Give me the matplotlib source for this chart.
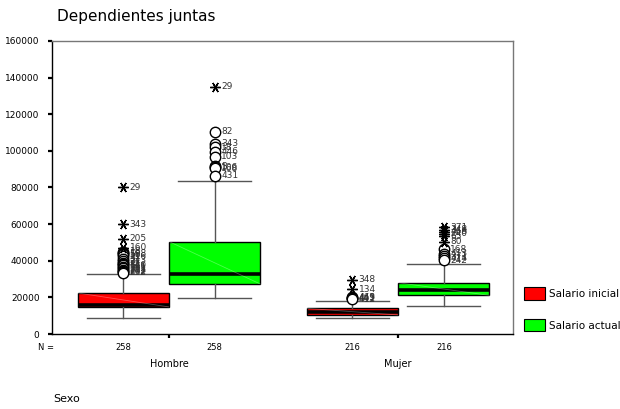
import matplotlib
matplotlib.use("Agg")
import matplotlib.pyplot as plt
from matplotlib.patches import Patch

# ---- data ----
groups = ["Hombre", "Mujer"]
series = ["Salario inicial", "Salario actual"]
counts = [[258, 258], [216, 216]]
colors = ["#ff0000", "#00ff00"]

# five-number summaries [whislo, q1, med, q3, whishi]
hombre_inicial = [8700, 14800, 15900, 22400, 32800]
hombre_actual = [19500, 27300, 32600, 50400, 83700]
mujer_inicial = [8600, 10400, 12200, 14000, 18200]
mujer_actual = [15300, 21100, 24200, 28000, 38200]

# outliers (value, case label)
hi_out = [(45000, "18"), (44000, "198"), (43500, "56"), (42500, "216"), (41000, "32"),
          (40000, "213"), (39000, "27"), (38000, "84"), (37500, "120"), (36500, "191"),
          (36000, "252"), (35000, "211"), (34500, "283"), (34000, "202"), (33500, "232")]
hi_ext = [(80000, "29"), (60000, "343"), (52000, "205"), (47000, "160")]
ha_out = [(110500, "82"), (104000, "343"), (102000, "18"), (99600, "446"), (96800, "103"),
          (91500, "3"), (91000, "106"), (90500, "168"), (86300, "431")]
ha_ext = [(135000, "29")]
mi_out = [(20000, "449"), (19700, "463"), (19400, "441"), (19000, "412")]
mi_ext = [(29500, "348"), (24400, "134")]
ma_out = [(46300, "168"), (43800, "413"), (42500, "371"), (41500, "414"), (40400, "242")]
ma_ext = [(58300, "371"), (56800, "348"), (55800, "468"), (54800, "240"), (53500, "65"),
          (50400, "80")]

yticks = [0, 20000, 40000, 60000, 80000, 100000, 120000, 140000, 160000]

# ---- figure ----
fig = plt.figure(figsize=(6.2, 4.09), dpi=100)
ax = fig.add_axes([52 / 620, 75 / 409, 461 / 620, 293 / 409])

group_pos = [1.0, 2.0]
offset = 0.2
width = 0.397
summaries = [[hombre_inicial, hombre_actual], [mujer_inicial, mujer_actual]]
outs = [[(hi_out, hi_ext), (ha_out, ha_ext)], [(mi_out, mi_ext), (ma_out, ma_ext)]]

for gi, gp in enumerate(group_pos):
    for si in range(2):
        s = summaries[gi][si]
        pos = gp + (-offset if si == 0 else offset)
        stats = [dict(whislo=s[0], q1=s[1], med=s[2], q3=s[3], whishi=s[4], fliers=[])]
        ax.bxp(stats, positions=[pos], widths=width, patch_artist=True,
               showfliers=False, showcaps=True,
               boxprops=dict(facecolor=colors[si], edgecolor="black", linewidth=1.0),
               medianprops=dict(color="black", linewidth=2.6),
               whiskerprops=dict(color="#555555", linewidth=1.0),
               capprops=dict(color="#555555", linewidth=1.0),
               capwidths=width * 0.8)
        # faint diagonal artefact inside the box
        ax.plot([pos - width / 2, pos + width / 2], [s[3], s[1]],
                color="white", alpha=0.3, linewidth=0.6, zorder=3)
        o, e = outs[gi][si]
        for v, lab in o:
            ax.plot([pos], [v], marker="o", markersize=7.5, markerfacecolor="white",
                    markeredgecolor="black", markeredgewidth=1.0, linestyle="none", zorder=4)
            ax.text(pos + 0.028, v, lab, fontsize=6.5, color="#333333",
                    va="center", ha="left", zorder=5)
        for v, lab in e:
            ax.plot([pos], [v], marker=(6, 2, 90), markersize=7.5, color="black",
                    markeredgewidth=1.0, linestyle="none", zorder=4)
            ax.text(pos + 0.028, v, lab, fontsize=6.5, color="#333333",
                    va="center", ha="left", zorder=5)

ax.set_xlim(0.489, 2.502)
ax.set_ylim(0, 160000)
ax.set_yticks(yticks)
ax.set_yticklabels([str(t) for t in yticks], fontsize=6.5)
ax.tick_params(axis="y", length=3, width=1.6, pad=6)
ax.set_xticks(group_pos)
ax.set_xticklabels([])
ax.tick_params(axis="x", length=3, width=1.6, direction="out")

for sp in ["top", "right"]:
    ax.spines[sp].set_color("#777777")
    ax.spines[sp].set_linewidth(1.0)
for sp in ["left", "bottom"]:
    ax.spines[sp].set_color("black")
    ax.spines[sp].set_linewidth(1.0)

trans = ax.get_xaxis_transform()
for gi, gp in enumerate(group_pos):
    for si in range(2):
        pos = gp + (-offset if si == 0 else offset)
        ax.text(pos, -0.045, str(counts[gi][si]), transform=trans, fontsize=6,
                ha="center", va="center")
    ax.text(gp, -0.103, groups[gi], transform=trans, fontsize=7,
            ha="center", va="center")
fig.text(38 / 620, 1 - 347 / 409, "N =", fontsize=6, ha="left", va="center")

fig.text(57 / 620, 1 - 17 / 409, "Dependientes juntas", fontsize=11, ha="left", va="center")
fig.text(53 / 620, 1 - 399 / 409, "Sexo", fontsize=8, ha="left", va="center")

handles = [Patch(facecolor=colors[i], edgecolor="black", linewidth=0.8) for i in range(2)]
fig.legend(handles, series, loc="upper left", bbox_to_anchor=(517 / 620, 1 - 280 / 409),
           frameon=False, fontsize=7.5, handlelength=2.0, handleheight=1.5,
           labelspacing=1.8, handletextpad=0.4, borderpad=0.2)

fig.savefig("out.png", dpi=100)
